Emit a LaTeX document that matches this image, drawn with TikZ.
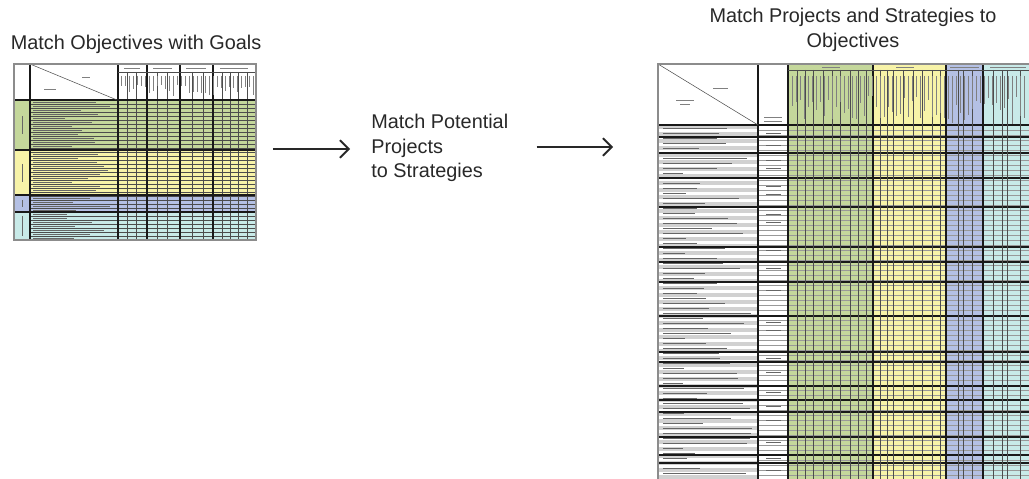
\documentclass[tikz,border=0pt]{standalone}
\usepackage{fontspec}
\setmainfont{Liberation Sans}
\usetikzlibrary{arrows.meta,positioning}

\definecolor{inkgray}{RGB}{40,40,40}
\definecolor{sheetgreen}{RGB}{196,215,155}
\definecolor{sheetyellow}{RGB}{247,243,168}
\definecolor{sheetblue}{RGB}{180,192,228}
\definecolor{sheetcyan}{RGB}{200,234,232}

\tikzset{
  caption/.style = {text = inkgray, font = \fontsize{11.3}{14}\selectfont, inner sep = 0pt},
  flow/.style = {draw = inkgray, line width = 1.1pt, -{Straight Barb[length = 5pt, width = 10pt, line width = 1.1pt]}},
  gridline/.style = {draw = black!70, line width = 0.3pt},
  gridbold/.style = {draw = black!90, line width = 0.6pt},
  gridframe/.style = {draw = black!45, line width = 0.8pt},
  scribble/.style = {draw = black!60, line width = 0.55pt},
  thinscribble/.style = {draw = black!50, line width = 0.4pt},
}

\begin{document}
\begin{tikzpicture}[x = 0.02cm, y = -0.02cm]
\useasboundingbox (0,0) rectangle (1029,479);
\pgfmathsetseed{11}

\node[caption] (goalstitle) at (136,44) {Match Objectives with Goals};
\node[caption, align = center] (objtitle) at (853,30) {Match Projects and Strategies to\\Objectives};
\node[caption, align = left, anchor = west] (strat) at (371,148) {Match Potential\\Projects\\to Strategies};

% small sheet: objectives against goals
\fill[sheetgreen]  (14,100) rectangle (256,150);
\fill[sheetyellow] (14,150) rectangle (256,195);
\fill[sheetblue]   (14,195) rectangle (256,212);
\fill[sheetcyan]   (14,212) rectangle (256,240);
\foreach \y in {104,108,...,236}
  \draw[gridline] (30,\y) -- (256,\y);
\foreach \y in {102,106,...,238} {
  \pgfmathsetmacro\len{30+50*rnd}
  \draw[scribble] (33,\y) -- ++(\len,0);
}
\foreach \x in {127,136,157,167,192,203,222,230,238,247}
  \draw[gridline] (\x,72) -- (\x,240);
\foreach \x in {118,147,180,213}
  \draw[gridbold] (\x,64) -- (\x,240);
\draw[gridline] (118,72) -- (256,72);
\foreach \x in {121,125,...,253} {
  \pgfmathsetmacro\len{8+14*rnd}
  \draw[thinscribble] (\x,76) -- ++(0,\len);
}
\foreach \a/\b in {124/140,153/172,186/206,220/248}
  \draw[thinscribble] (\a,68) -- (\b,68);
\foreach \y in {100,150,195,212}
  \draw[gridbold] (14,\y) -- (256,\y);
\draw[gridbold] (30,64) -- (30,240);
\foreach \a/\b in {116/134,164/182,200/207,216/236}
  \draw[scribble] (22,\a) -- (22,\b);
\draw[gridline] (30,64) -- (117,100);
\draw[thinscribble] (82,77) -- (90,77);
\draw[thinscribble] (44,89) -- (56,89);
\draw[gridframe] (14,64) rectangle (256,240);
\coordinate (goalsedge) at (256,149);

% large sheet: projects and strategies against objectives
\fill[sheetgreen]  (788,64) rectangle (873,479);
\fill[sheetyellow] (873,64) rectangle (946,479);
\fill[sheetblue]   (946,64) rectangle (983,479);
\fill[sheetcyan]   (983,64) rectangle (1029,479);
\foreach \y in {125,132,...,475}
  \fill[black!18] (659,\y) rectangle (758,\y+4);
\foreach \y in {130,135,...,475}
  \draw[gridline, draw = black!40] (758,\y) -- (1029,\y);
\foreach \y in {128,133,...,476} {
  \pgfmathsetmacro\len{20+70*rnd}
  \draw[scribble] (663,\y) -- ++(\len,0);
}
\foreach \y in {133,145,160,168,186,194,214,222,250,268,290,322,330,358,372,392,406,420,442,458,470}
  \draw[scribble] (766,\y) -- (781,\y);
\foreach \y in {125,137,153,178,207,247,262,282,316,352,362,386,400,412,437,455,463}
  \draw[gridbold] (658,\y) -- (1029,\y);
\foreach \x in {797,805,813,823,832,840,850,858,866,880,887,893,903,913,922,932,940,958,963,972,993,1002,1007,1020}
  \draw[gridline] (\x,70) -- (\x,479);
\foreach \x in {758,788,873,946,983}
  \draw[gridbold] (\x,64) -- (\x,479);
\draw[gridline] (788,70) -- (1029,70);
\foreach \x in {792,796,...,1027} {
  \pgfmathsetmacro\len{20+28*rnd}
  \draw[thinscribble] (\x,76) -- ++(0,\len);
}
\foreach \a/\b in {822/840,896/914,950/979,990/1026}
  \draw[thinscribble] (\a,67) -- (\b,67);
\draw[gridline] (658,64) -- (758,125);
\draw[thinscribble] (713,88) -- (728,88);
\draw[thinscribble] (676,100) -- (694,100);
\draw[thinscribble] (680,104) -- (690,104);
\draw[thinscribble] (764,117) -- (782,117);
\draw[thinscribble] (764,121) -- (782,121);
\draw[gridframe] (1029,64) -- (658,64) -- (658,479);
\coordinate (objedge) at (658,147);

\draw[flow, shorten <= 0.34cm, shorten >= 0.42cm] (goalsedge) -- (goalsedge -| strat.west);
\draw[flow, shorten <= 0.56cm, shorten >= 0.9cm] (objedge -| strat.east) -- (objedge);
\end{tikzpicture}
\end{document}
